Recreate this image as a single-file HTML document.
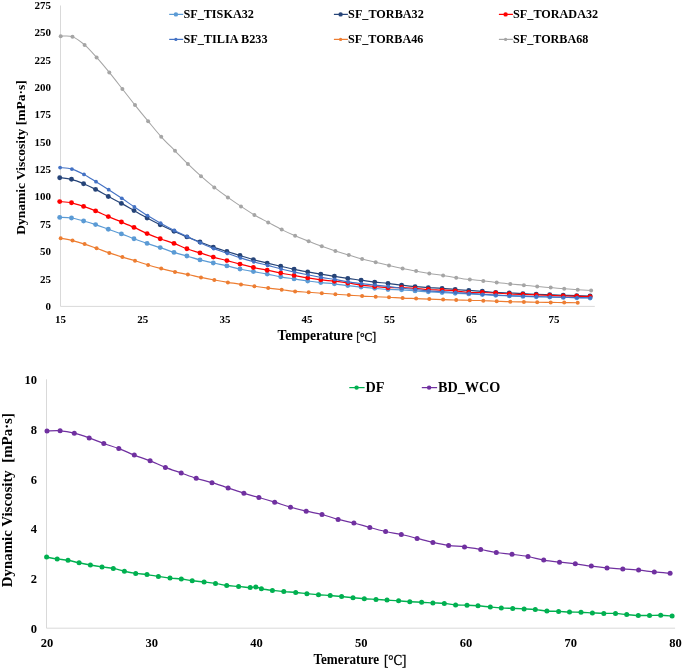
<!DOCTYPE html>
<html><head><meta charset="utf-8"><style>
html,body{margin:0;padding:0;background:#fff;width:685px;height:669px;overflow:hidden;}
svg{display:block;font-family:"Liberation Serif", serif;will-change:transform;}
</style></head><body>
<svg width="685" height="669" viewBox="0 0 685 669">
<rect width="685" height="669" fill="#fff"/>
<line x1="60.5" y1="5.5" x2="60.5" y2="306.4" stroke="#d9d9d9" stroke-width="1"/>
<line x1="60.5" y1="306.4" x2="594.8" y2="306.4" stroke="#d9d9d9" stroke-width="1"/>
<text x="51" y="309.9" font-family="'Liberation Serif', serif" font-weight="bold" font-size="11" text-anchor="end">0</text>
<text x="51" y="282.5" font-family="'Liberation Serif', serif" font-weight="bold" font-size="11" text-anchor="end">25</text>
<text x="51" y="255.2" font-family="'Liberation Serif', serif" font-weight="bold" font-size="11" text-anchor="end">50</text>
<text x="51" y="227.8" font-family="'Liberation Serif', serif" font-weight="bold" font-size="11" text-anchor="end">75</text>
<text x="51" y="200.4" font-family="'Liberation Serif', serif" font-weight="bold" font-size="11" text-anchor="end">100</text>
<text x="51" y="173.1" font-family="'Liberation Serif', serif" font-weight="bold" font-size="11" text-anchor="end">125</text>
<text x="51" y="145.7" font-family="'Liberation Serif', serif" font-weight="bold" font-size="11" text-anchor="end">150</text>
<text x="51" y="118.4" font-family="'Liberation Serif', serif" font-weight="bold" font-size="11" text-anchor="end">175</text>
<text x="51" y="91.0" font-family="'Liberation Serif', serif" font-weight="bold" font-size="11" text-anchor="end">200</text>
<text x="51" y="63.6" font-family="'Liberation Serif', serif" font-weight="bold" font-size="11" text-anchor="end">225</text>
<text x="51" y="36.3" font-family="'Liberation Serif', serif" font-weight="bold" font-size="11" text-anchor="end">250</text>
<text x="51" y="8.9" font-family="'Liberation Serif', serif" font-weight="bold" font-size="11" text-anchor="end">275</text>
<text x="60.4" y="323.2" font-family="'Liberation Serif', serif" font-weight="bold" font-size="11" text-anchor="middle">15</text>
<text x="142.7" y="323.2" font-family="'Liberation Serif', serif" font-weight="bold" font-size="11" text-anchor="middle">25</text>
<text x="224.9" y="323.2" font-family="'Liberation Serif', serif" font-weight="bold" font-size="11" text-anchor="middle">35</text>
<text x="307.1" y="323.2" font-family="'Liberation Serif', serif" font-weight="bold" font-size="11" text-anchor="middle">45</text>
<text x="389.4" y="323.2" font-family="'Liberation Serif', serif" font-weight="bold" font-size="11" text-anchor="middle">55</text>
<text x="471.6" y="323.2" font-family="'Liberation Serif', serif" font-weight="bold" font-size="11" text-anchor="middle">65</text>
<text x="553.9" y="323.2" font-family="'Liberation Serif', serif" font-weight="bold" font-size="11" text-anchor="middle">75</text>
<text transform="translate(25.2,157.6) rotate(-90)" font-family="'Liberation Serif', serif" font-weight="bold" font-size="13.5" text-anchor="middle">Dynamic Viscosity [mPa·s]</text>
<text x="277.4" y="340.2" font-family="'Liberation Serif', serif" font-weight="bold" font-size="14.2" textLength="75.3" lengthAdjust="spacingAndGlyphs">Temperature</text>
<text x="356.2" y="340.5" font-family="'Liberation Serif', serif" font-size="12.6" textLength="19.9" lengthAdjust="spacingAndGlyphs" stroke="#000" stroke-width="0.35">[°C]</text>
<path d="M59.70,217.40 C61.67,217.50 67.52,217.40 71.50,218.00 C75.48,218.60 79.58,219.90 83.60,221.00 C87.62,222.10 91.48,223.23 95.60,224.60 C99.72,225.97 104.00,227.65 108.30,229.20 C112.60,230.75 117.12,232.32 121.40,233.90 C125.68,235.48 129.72,237.12 134.00,238.70 C138.28,240.28 142.73,241.92 147.10,243.40 C151.47,244.88 155.72,246.10 160.20,247.60 C164.68,249.10 169.55,251.00 174.00,252.40 C178.45,253.80 182.57,254.75 186.90,256.00 C191.23,257.25 195.60,258.73 200.00,259.90 C204.40,261.07 208.82,262.00 213.30,263.00 C217.78,264.00 222.45,264.90 226.90,265.90 C231.35,266.90 235.58,268.05 240.00,269.00 C244.42,269.95 248.87,270.75 253.40,271.60 C257.93,272.45 262.65,273.23 267.20,274.10 C271.75,274.97 276.22,276.00 280.70,276.80 C285.18,277.60 289.60,278.20 294.10,278.90 C298.60,279.60 303.25,280.38 307.70,281.00 C312.15,281.62 316.35,282.13 320.80,282.60 C325.25,283.07 329.90,283.30 334.40,283.80 C338.90,284.30 343.35,285.05 347.80,285.60 C352.25,286.15 356.62,286.65 361.10,287.10 C365.58,287.55 370.22,287.90 374.70,288.30 C379.18,288.70 383.52,289.25 388.00,289.50 C392.48,289.75 397.08,289.57 401.60,289.80 C406.12,290.03 410.65,290.57 415.10,290.90 C419.55,291.23 423.80,291.52 428.30,291.80 C432.80,292.08 437.62,292.35 442.10,292.60 C446.58,292.85 450.75,293.08 455.20,293.30 C459.65,293.52 464.28,293.68 468.80,293.90 C473.32,294.12 477.82,294.37 482.30,294.60 C486.78,294.83 491.20,295.08 495.70,295.30 C500.20,295.52 504.77,295.72 509.30,295.90 C513.83,296.08 518.42,296.25 522.90,296.40 C527.38,296.55 531.73,296.68 536.20,296.80 C540.67,296.92 545.20,297.00 549.70,297.10 C554.20,297.20 558.70,297.30 563.20,297.40 C567.70,297.50 572.22,297.60 576.70,297.70 C581.18,297.80 587.87,297.95 590.10,298.00" fill="none" stroke="#5b9bd5" stroke-width="1.2" stroke-linejoin="round"/><circle cx="59.7" cy="217.4" r="2.45" fill="#5b9bd5"/><circle cx="71.5" cy="218.0" r="2.45" fill="#5b9bd5"/><circle cx="83.6" cy="221.0" r="2.45" fill="#5b9bd5"/><circle cx="95.6" cy="224.6" r="2.45" fill="#5b9bd5"/><circle cx="108.3" cy="229.2" r="2.45" fill="#5b9bd5"/><circle cx="121.4" cy="233.9" r="2.45" fill="#5b9bd5"/><circle cx="134.0" cy="238.7" r="2.45" fill="#5b9bd5"/><circle cx="147.1" cy="243.4" r="2.45" fill="#5b9bd5"/><circle cx="160.2" cy="247.6" r="2.45" fill="#5b9bd5"/><circle cx="174.0" cy="252.4" r="2.45" fill="#5b9bd5"/><circle cx="186.9" cy="256.0" r="2.45" fill="#5b9bd5"/><circle cx="200.0" cy="259.9" r="2.45" fill="#5b9bd5"/><circle cx="213.3" cy="263.0" r="2.45" fill="#5b9bd5"/><circle cx="226.9" cy="265.9" r="2.45" fill="#5b9bd5"/><circle cx="240.0" cy="269.0" r="2.45" fill="#5b9bd5"/><circle cx="253.4" cy="271.6" r="2.45" fill="#5b9bd5"/><circle cx="267.2" cy="274.1" r="2.45" fill="#5b9bd5"/><circle cx="280.7" cy="276.8" r="2.45" fill="#5b9bd5"/><circle cx="294.1" cy="278.9" r="2.45" fill="#5b9bd5"/><circle cx="307.7" cy="281.0" r="2.45" fill="#5b9bd5"/><circle cx="320.8" cy="282.6" r="2.45" fill="#5b9bd5"/><circle cx="334.4" cy="283.8" r="2.45" fill="#5b9bd5"/><circle cx="347.8" cy="285.6" r="2.45" fill="#5b9bd5"/><circle cx="361.1" cy="287.1" r="2.45" fill="#5b9bd5"/><circle cx="374.7" cy="288.3" r="2.45" fill="#5b9bd5"/><circle cx="388.0" cy="289.5" r="2.45" fill="#5b9bd5"/><circle cx="401.6" cy="289.8" r="2.45" fill="#5b9bd5"/><circle cx="415.1" cy="290.9" r="2.45" fill="#5b9bd5"/><circle cx="428.3" cy="291.8" r="2.45" fill="#5b9bd5"/><circle cx="442.1" cy="292.6" r="2.45" fill="#5b9bd5"/><circle cx="455.2" cy="293.3" r="2.45" fill="#5b9bd5"/><circle cx="468.8" cy="293.9" r="2.45" fill="#5b9bd5"/><circle cx="482.3" cy="294.6" r="2.45" fill="#5b9bd5"/><circle cx="495.7" cy="295.3" r="2.45" fill="#5b9bd5"/><circle cx="509.3" cy="295.9" r="2.45" fill="#5b9bd5"/><circle cx="522.9" cy="296.4" r="2.45" fill="#5b9bd5"/><circle cx="536.2" cy="296.8" r="2.45" fill="#5b9bd5"/><circle cx="549.7" cy="297.1" r="2.45" fill="#5b9bd5"/><circle cx="563.2" cy="297.4" r="2.45" fill="#5b9bd5"/><circle cx="576.7" cy="297.7" r="2.45" fill="#5b9bd5"/><circle cx="590.1" cy="298.0" r="2.45" fill="#5b9bd5"/>
<path d="M59.70,177.70 C61.67,177.97 67.52,178.30 71.50,179.30 C75.48,180.30 79.58,182.02 83.60,183.70 C87.62,185.38 91.48,187.27 95.60,189.40 C99.72,191.53 104.00,194.17 108.30,196.50 C112.60,198.83 117.12,201.05 121.40,203.40 C125.68,205.75 129.72,208.17 134.00,210.60 C138.28,213.03 142.73,215.65 147.10,218.00 C151.47,220.35 155.72,222.50 160.20,224.70 C164.68,226.90 169.55,229.17 174.00,231.20 C178.45,233.23 182.57,235.10 186.90,236.90 C191.23,238.70 195.60,240.30 200.00,242.00 C204.40,243.70 208.82,245.52 213.30,247.10 C217.78,248.68 222.45,250.10 226.90,251.50 C231.35,252.90 235.58,254.13 240.00,255.50 C244.42,256.87 248.87,258.43 253.40,259.70 C257.93,260.97 262.65,262.00 267.20,263.10 C271.75,264.20 276.22,265.27 280.70,266.30 C285.18,267.33 289.60,268.37 294.10,269.30 C298.60,270.23 303.25,271.08 307.70,271.90 C312.15,272.72 316.35,273.47 320.80,274.20 C325.25,274.93 329.90,275.60 334.40,276.30 C338.90,277.00 343.35,277.75 347.80,278.40 C352.25,279.05 356.62,279.58 361.10,280.20 C365.58,280.82 370.22,281.57 374.70,282.10 C379.18,282.63 383.52,282.88 388.00,283.40 C392.48,283.92 397.08,284.65 401.60,285.20 C406.12,285.75 410.65,286.30 415.10,286.70 C419.55,287.10 423.80,287.32 428.30,287.60 C432.80,287.88 437.62,288.08 442.10,288.40 C446.58,288.72 450.75,289.17 455.20,289.50 C459.65,289.83 464.28,290.10 468.80,290.40 C473.32,290.70 477.82,290.97 482.30,291.30 C486.78,291.63 491.20,292.12 495.70,292.40 C500.20,292.68 504.77,292.80 509.30,293.00 C513.83,293.20 518.42,293.38 522.90,293.60 C527.38,293.82 531.73,294.10 536.20,294.30 C540.67,294.50 545.20,294.63 549.70,294.80 C554.20,294.97 558.70,295.15 563.20,295.30 C567.70,295.45 572.22,295.58 576.70,295.70 C581.18,295.82 587.87,295.95 590.10,296.00" fill="none" stroke="#264478" stroke-width="1.2" stroke-linejoin="round"/><circle cx="59.7" cy="177.7" r="2.45" fill="#264478"/><circle cx="71.5" cy="179.3" r="2.45" fill="#264478"/><circle cx="83.6" cy="183.7" r="2.45" fill="#264478"/><circle cx="95.6" cy="189.4" r="2.45" fill="#264478"/><circle cx="108.3" cy="196.5" r="2.45" fill="#264478"/><circle cx="121.4" cy="203.4" r="2.45" fill="#264478"/><circle cx="134.0" cy="210.6" r="2.45" fill="#264478"/><circle cx="147.1" cy="218.0" r="2.45" fill="#264478"/><circle cx="160.2" cy="224.7" r="2.45" fill="#264478"/><circle cx="174.0" cy="231.2" r="2.45" fill="#264478"/><circle cx="186.9" cy="236.9" r="2.45" fill="#264478"/><circle cx="200.0" cy="242.0" r="2.45" fill="#264478"/><circle cx="213.3" cy="247.1" r="2.45" fill="#264478"/><circle cx="226.9" cy="251.5" r="2.45" fill="#264478"/><circle cx="240.0" cy="255.5" r="2.45" fill="#264478"/><circle cx="253.4" cy="259.7" r="2.45" fill="#264478"/><circle cx="267.2" cy="263.1" r="2.45" fill="#264478"/><circle cx="280.7" cy="266.3" r="2.45" fill="#264478"/><circle cx="294.1" cy="269.3" r="2.45" fill="#264478"/><circle cx="307.7" cy="271.9" r="2.45" fill="#264478"/><circle cx="320.8" cy="274.2" r="2.45" fill="#264478"/><circle cx="334.4" cy="276.3" r="2.45" fill="#264478"/><circle cx="347.8" cy="278.4" r="2.45" fill="#264478"/><circle cx="361.1" cy="280.2" r="2.45" fill="#264478"/><circle cx="374.7" cy="282.1" r="2.45" fill="#264478"/><circle cx="388.0" cy="283.4" r="2.45" fill="#264478"/><circle cx="401.6" cy="285.2" r="2.45" fill="#264478"/><circle cx="415.1" cy="286.7" r="2.45" fill="#264478"/><circle cx="428.3" cy="287.6" r="2.45" fill="#264478"/><circle cx="442.1" cy="288.4" r="2.45" fill="#264478"/><circle cx="455.2" cy="289.5" r="2.45" fill="#264478"/><circle cx="468.8" cy="290.4" r="2.45" fill="#264478"/><circle cx="482.3" cy="291.3" r="2.45" fill="#264478"/><circle cx="495.7" cy="292.4" r="2.45" fill="#264478"/><circle cx="509.3" cy="293.0" r="2.45" fill="#264478"/><circle cx="522.9" cy="293.6" r="2.45" fill="#264478"/><circle cx="536.2" cy="294.3" r="2.45" fill="#264478"/><circle cx="549.7" cy="294.8" r="2.45" fill="#264478"/><circle cx="563.2" cy="295.3" r="2.45" fill="#264478"/><circle cx="576.7" cy="295.7" r="2.45" fill="#264478"/><circle cx="590.1" cy="296.0" r="2.45" fill="#264478"/>
<path d="M59.70,201.60 C61.67,201.80 67.52,202.00 71.50,202.80 C75.48,203.60 79.58,205.05 83.60,206.40 C87.62,207.75 91.48,209.20 95.60,210.90 C99.72,212.60 104.00,214.75 108.30,216.60 C112.60,218.45 117.12,220.20 121.40,222.00 C125.68,223.80 129.72,225.47 134.00,227.40 C138.28,229.33 142.73,231.72 147.10,233.60 C151.47,235.48 155.72,237.07 160.20,238.70 C164.68,240.33 169.55,241.72 174.00,243.40 C178.45,245.08 182.57,247.22 186.90,248.80 C191.23,250.38 195.60,251.52 200.00,252.90 C204.40,254.28 208.82,255.82 213.30,257.10 C217.78,258.38 222.45,259.43 226.90,260.60 C231.35,261.77 235.58,262.95 240.00,264.10 C244.42,265.25 248.87,266.48 253.40,267.50 C257.93,268.52 262.65,269.28 267.20,270.20 C271.75,271.12 276.22,272.13 280.70,273.00 C285.18,273.87 289.60,274.58 294.10,275.40 C298.60,276.22 303.25,277.17 307.70,277.90 C312.15,278.63 316.35,279.25 320.80,279.80 C325.25,280.35 329.90,280.67 334.40,281.20 C338.90,281.73 343.35,282.35 347.80,283.00 C352.25,283.65 356.62,284.52 361.10,285.10 C365.58,285.68 370.22,286.07 374.70,286.50 C379.18,286.93 383.52,287.53 388.00,287.70 C392.48,287.87 397.08,287.38 401.60,287.50 C406.12,287.62 410.65,288.07 415.10,288.40 C419.55,288.73 423.80,289.22 428.30,289.50 C432.80,289.78 437.62,289.87 442.10,290.10 C446.58,290.33 450.75,290.50 455.20,290.90 C459.65,291.30 464.28,292.23 468.80,292.50 C473.32,292.77 477.82,292.42 482.30,292.50 C486.78,292.58 491.20,292.75 495.70,293.00 C500.20,293.25 504.77,293.75 509.30,294.00 C513.83,294.25 518.42,294.35 522.90,294.50 C527.38,294.65 531.73,294.75 536.20,294.90 C540.67,295.05 545.20,295.22 549.70,295.40 C554.20,295.58 558.70,295.85 563.20,296.00 C567.70,296.15 572.22,296.20 576.70,296.30 C581.18,296.40 587.87,296.55 590.10,296.60" fill="none" stroke="#ff0000" stroke-width="1.2" stroke-linejoin="round"/><circle cx="59.7" cy="201.6" r="2.45" fill="#ff0000"/><circle cx="71.5" cy="202.8" r="2.45" fill="#ff0000"/><circle cx="83.6" cy="206.4" r="2.45" fill="#ff0000"/><circle cx="95.6" cy="210.9" r="2.45" fill="#ff0000"/><circle cx="108.3" cy="216.6" r="2.45" fill="#ff0000"/><circle cx="121.4" cy="222.0" r="2.45" fill="#ff0000"/><circle cx="134.0" cy="227.4" r="2.45" fill="#ff0000"/><circle cx="147.1" cy="233.6" r="2.45" fill="#ff0000"/><circle cx="160.2" cy="238.7" r="2.45" fill="#ff0000"/><circle cx="174.0" cy="243.4" r="2.45" fill="#ff0000"/><circle cx="186.9" cy="248.8" r="2.45" fill="#ff0000"/><circle cx="200.0" cy="252.9" r="2.45" fill="#ff0000"/><circle cx="213.3" cy="257.1" r="2.45" fill="#ff0000"/><circle cx="226.9" cy="260.6" r="2.45" fill="#ff0000"/><circle cx="240.0" cy="264.1" r="2.45" fill="#ff0000"/><circle cx="253.4" cy="267.5" r="2.45" fill="#ff0000"/><circle cx="267.2" cy="270.2" r="2.45" fill="#ff0000"/><circle cx="280.7" cy="273.0" r="2.45" fill="#ff0000"/><circle cx="294.1" cy="275.4" r="2.45" fill="#ff0000"/><circle cx="307.7" cy="277.9" r="2.45" fill="#ff0000"/><circle cx="320.8" cy="279.8" r="2.45" fill="#ff0000"/><circle cx="334.4" cy="281.2" r="2.45" fill="#ff0000"/><circle cx="347.8" cy="283.0" r="2.45" fill="#ff0000"/><circle cx="361.1" cy="285.1" r="2.45" fill="#ff0000"/><circle cx="374.7" cy="286.5" r="2.45" fill="#ff0000"/><circle cx="388.0" cy="287.7" r="2.45" fill="#ff0000"/><circle cx="401.6" cy="287.5" r="2.45" fill="#ff0000"/><circle cx="415.1" cy="288.4" r="2.45" fill="#ff0000"/><circle cx="428.3" cy="289.5" r="2.45" fill="#ff0000"/><circle cx="442.1" cy="290.1" r="2.45" fill="#ff0000"/><circle cx="455.2" cy="290.9" r="2.45" fill="#ff0000"/><circle cx="468.8" cy="292.5" r="2.45" fill="#ff0000"/><circle cx="482.3" cy="292.5" r="2.45" fill="#ff0000"/><circle cx="495.7" cy="293.0" r="2.45" fill="#ff0000"/><circle cx="509.3" cy="294.0" r="2.45" fill="#ff0000"/><circle cx="522.9" cy="294.5" r="2.45" fill="#ff0000"/><circle cx="536.2" cy="294.9" r="2.45" fill="#ff0000"/><circle cx="549.7" cy="295.4" r="2.45" fill="#ff0000"/><circle cx="563.2" cy="296.0" r="2.45" fill="#ff0000"/><circle cx="576.7" cy="296.3" r="2.45" fill="#ff0000"/><circle cx="590.1" cy="296.6" r="2.45" fill="#ff0000"/>
<path d="M60.10,167.60 C62.07,167.85 67.92,167.97 71.90,169.10 C75.88,170.23 79.98,172.30 84.00,174.40 C88.02,176.50 91.88,179.15 96.00,181.70 C100.12,184.25 104.40,186.93 108.70,189.70 C113.00,192.47 117.52,195.42 121.80,198.30 C126.08,201.18 130.12,204.12 134.40,207.00 C138.68,209.88 143.13,212.90 147.50,215.60 C151.87,218.30 156.12,220.72 160.60,223.20 C165.08,225.68 169.95,228.27 174.40,230.50 C178.85,232.73 182.97,234.55 187.30,236.60 C191.63,238.65 196.00,240.80 200.40,242.80 C204.80,244.80 209.22,246.85 213.70,248.60 C218.18,250.35 222.85,251.75 227.30,253.30 C231.75,254.85 235.98,256.48 240.40,257.90 C244.82,259.32 249.27,260.55 253.80,261.80 C258.33,263.05 263.05,264.20 267.60,265.40 C272.15,266.60 276.62,267.88 281.10,269.00 C285.58,270.12 290.00,271.13 294.50,272.10 C299.00,273.07 303.65,273.92 308.10,274.80 C312.55,275.68 316.75,276.63 321.20,277.40 C325.65,278.17 330.30,278.65 334.80,279.40 C339.30,280.15 343.75,281.20 348.20,281.90 C352.65,282.60 357.02,283.07 361.50,283.60 C365.98,284.13 370.62,284.62 375.10,285.10 C379.58,285.58 383.92,285.97 388.40,286.50 C392.88,287.03 397.48,287.80 402.00,288.30 C406.52,288.80 411.05,289.07 415.50,289.50 C419.95,289.93 424.20,290.55 428.70,290.90 C433.20,291.25 438.02,291.33 442.50,291.60 C446.98,291.87 451.15,292.20 455.60,292.50 C460.05,292.80 464.68,293.10 469.20,293.40 C473.72,293.70 478.22,294.02 482.70,294.30 C487.18,294.58 491.60,294.87 496.10,295.10 C500.60,295.33 505.17,295.53 509.70,295.70 C514.23,295.87 518.82,295.97 523.30,296.10 C527.78,296.23 532.13,296.37 536.60,296.50 C541.07,296.63 545.60,296.77 550.10,296.90 C554.60,297.03 559.10,297.18 563.60,297.30 C568.10,297.42 572.62,297.52 577.10,297.60 C581.58,297.68 588.27,297.77 590.50,297.80" fill="none" stroke="#4472c4" stroke-width="1.15" stroke-linejoin="round"/><circle cx="60.1" cy="167.6" r="1.9" fill="#4472c4"/><circle cx="71.9" cy="169.1" r="1.9" fill="#4472c4"/><circle cx="84.0" cy="174.4" r="1.9" fill="#4472c4"/><circle cx="96.0" cy="181.7" r="1.9" fill="#4472c4"/><circle cx="108.7" cy="189.7" r="1.9" fill="#4472c4"/><circle cx="121.8" cy="198.3" r="1.9" fill="#4472c4"/><circle cx="134.4" cy="207.0" r="1.9" fill="#4472c4"/><circle cx="147.5" cy="215.6" r="1.9" fill="#4472c4"/><circle cx="160.6" cy="223.2" r="1.9" fill="#4472c4"/><circle cx="174.4" cy="230.5" r="1.9" fill="#4472c4"/><circle cx="187.3" cy="236.6" r="1.9" fill="#4472c4"/><circle cx="200.4" cy="242.8" r="1.9" fill="#4472c4"/><circle cx="213.7" cy="248.6" r="1.9" fill="#4472c4"/><circle cx="227.3" cy="253.3" r="1.9" fill="#4472c4"/><circle cx="240.4" cy="257.9" r="1.9" fill="#4472c4"/><circle cx="253.8" cy="261.8" r="1.9" fill="#4472c4"/><circle cx="267.6" cy="265.4" r="1.9" fill="#4472c4"/><circle cx="281.1" cy="269.0" r="1.9" fill="#4472c4"/><circle cx="294.5" cy="272.1" r="1.9" fill="#4472c4"/><circle cx="308.1" cy="274.8" r="1.9" fill="#4472c4"/><circle cx="321.2" cy="277.4" r="1.9" fill="#4472c4"/><circle cx="334.8" cy="279.4" r="1.9" fill="#4472c4"/><circle cx="348.2" cy="281.9" r="1.9" fill="#4472c4"/><circle cx="361.5" cy="283.6" r="1.9" fill="#4472c4"/><circle cx="375.1" cy="285.1" r="1.9" fill="#4472c4"/><circle cx="388.4" cy="286.5" r="1.9" fill="#4472c4"/><circle cx="402.0" cy="288.3" r="1.9" fill="#4472c4"/><circle cx="415.5" cy="289.5" r="1.9" fill="#4472c4"/><circle cx="428.7" cy="290.9" r="1.9" fill="#4472c4"/><circle cx="442.5" cy="291.6" r="1.9" fill="#4472c4"/><circle cx="455.6" cy="292.5" r="1.9" fill="#4472c4"/><circle cx="469.2" cy="293.4" r="1.9" fill="#4472c4"/><circle cx="482.7" cy="294.3" r="1.9" fill="#4472c4"/><circle cx="496.1" cy="295.1" r="1.9" fill="#4472c4"/><circle cx="509.7" cy="295.7" r="1.9" fill="#4472c4"/><circle cx="523.3" cy="296.1" r="1.9" fill="#4472c4"/><circle cx="536.6" cy="296.5" r="1.9" fill="#4472c4"/><circle cx="550.1" cy="296.9" r="1.9" fill="#4472c4"/><circle cx="563.6" cy="297.3" r="1.9" fill="#4472c4"/><circle cx="577.1" cy="297.6" r="1.9" fill="#4472c4"/><circle cx="590.5" cy="297.8" r="1.9" fill="#4472c4"/>
<path d="M60.70,238.20 C62.67,238.60 68.52,239.62 72.50,240.60 C76.48,241.58 80.58,242.82 84.60,244.10 C88.62,245.38 92.48,246.83 96.60,248.30 C100.72,249.77 105.00,251.43 109.30,252.90 C113.60,254.37 118.12,255.80 122.40,257.10 C126.68,258.40 130.72,259.38 135.00,260.70 C139.28,262.02 143.73,263.68 148.10,265.00 C152.47,266.32 156.72,267.45 161.20,268.60 C165.68,269.75 170.55,270.92 175.00,271.90 C179.45,272.88 183.57,273.58 187.90,274.50 C192.23,275.42 196.60,276.48 201.00,277.40 C205.40,278.32 209.82,279.17 214.30,280.00 C218.78,280.83 223.45,281.67 227.90,282.40 C232.35,283.13 236.58,283.75 241.00,284.40 C245.42,285.05 249.87,285.68 254.40,286.30 C258.93,286.92 263.65,287.53 268.20,288.10 C272.75,288.67 277.22,289.15 281.70,289.70 C286.18,290.25 290.60,290.97 295.10,291.40 C299.60,291.83 304.25,292.00 308.70,292.30 C313.15,292.60 317.35,292.88 321.80,293.20 C326.25,293.52 330.90,293.88 335.40,294.20 C339.90,294.52 344.35,294.78 348.80,295.10 C353.25,295.42 357.62,295.83 362.10,296.10 C366.58,296.37 371.22,296.50 375.70,296.70 C380.18,296.90 384.52,297.07 389.00,297.30 C393.48,297.53 398.08,297.88 402.60,298.10 C407.12,298.32 411.65,298.43 416.10,298.60 C420.55,298.77 424.80,298.93 429.30,299.10 C433.80,299.27 438.62,299.45 443.10,299.60 C447.58,299.75 451.75,299.90 456.20,300.00 C460.65,300.10 465.28,300.08 469.80,300.20 C474.32,300.32 478.82,300.53 483.30,300.70 C487.78,300.87 492.20,301.03 496.70,301.20 C501.20,301.37 505.77,301.58 510.30,301.70 C514.83,301.82 519.42,301.82 523.90,301.90 C528.38,301.98 532.73,302.12 537.20,302.20 C541.67,302.28 546.20,302.33 550.70,302.40 C555.20,302.47 559.70,302.53 564.20,302.60 C568.70,302.67 575.45,302.77 577.70,302.80" fill="none" stroke="#ed7d31" stroke-width="1.15" stroke-linejoin="round"/><circle cx="60.7" cy="238.2" r="2" fill="#ed7d31"/><circle cx="72.5" cy="240.6" r="2" fill="#ed7d31"/><circle cx="84.6" cy="244.1" r="2" fill="#ed7d31"/><circle cx="96.6" cy="248.3" r="2" fill="#ed7d31"/><circle cx="109.3" cy="252.9" r="2" fill="#ed7d31"/><circle cx="122.4" cy="257.1" r="2" fill="#ed7d31"/><circle cx="135.0" cy="260.7" r="2" fill="#ed7d31"/><circle cx="148.1" cy="265.0" r="2" fill="#ed7d31"/><circle cx="161.2" cy="268.6" r="2" fill="#ed7d31"/><circle cx="175.0" cy="271.9" r="2" fill="#ed7d31"/><circle cx="187.9" cy="274.5" r="2" fill="#ed7d31"/><circle cx="201.0" cy="277.4" r="2" fill="#ed7d31"/><circle cx="214.3" cy="280.0" r="2" fill="#ed7d31"/><circle cx="227.9" cy="282.4" r="2" fill="#ed7d31"/><circle cx="241.0" cy="284.4" r="2" fill="#ed7d31"/><circle cx="254.4" cy="286.3" r="2" fill="#ed7d31"/><circle cx="268.2" cy="288.1" r="2" fill="#ed7d31"/><circle cx="281.7" cy="289.7" r="2" fill="#ed7d31"/><circle cx="295.1" cy="291.4" r="2" fill="#ed7d31"/><circle cx="308.7" cy="292.3" r="2" fill="#ed7d31"/><circle cx="321.8" cy="293.2" r="2" fill="#ed7d31"/><circle cx="335.4" cy="294.2" r="2" fill="#ed7d31"/><circle cx="348.8" cy="295.1" r="2" fill="#ed7d31"/><circle cx="362.1" cy="296.1" r="2" fill="#ed7d31"/><circle cx="375.7" cy="296.7" r="2" fill="#ed7d31"/><circle cx="389.0" cy="297.3" r="2" fill="#ed7d31"/><circle cx="402.6" cy="298.1" r="2" fill="#ed7d31"/><circle cx="416.1" cy="298.6" r="2" fill="#ed7d31"/><circle cx="429.3" cy="299.1" r="2" fill="#ed7d31"/><circle cx="443.1" cy="299.6" r="2" fill="#ed7d31"/><circle cx="456.2" cy="300.0" r="2" fill="#ed7d31"/><circle cx="469.8" cy="300.2" r="2" fill="#ed7d31"/><circle cx="483.3" cy="300.7" r="2" fill="#ed7d31"/><circle cx="496.7" cy="301.2" r="2" fill="#ed7d31"/><circle cx="510.3" cy="301.7" r="2" fill="#ed7d31"/><circle cx="523.9" cy="301.9" r="2" fill="#ed7d31"/><circle cx="537.2" cy="302.2" r="2" fill="#ed7d31"/><circle cx="550.7" cy="302.4" r="2" fill="#ed7d31"/><circle cx="564.2" cy="302.6" r="2" fill="#ed7d31"/><circle cx="577.7" cy="302.8" r="2" fill="#ed7d31"/>
<path d="M60.70,36.20 C62.67,36.28 68.52,35.25 72.50,36.70 C76.48,38.15 80.58,41.45 84.60,44.90 C88.62,48.35 92.48,52.82 96.60,57.40 C100.72,61.98 105.00,67.13 109.30,72.40 C113.60,77.67 118.12,83.55 122.40,89.00 C126.68,94.45 130.72,99.73 135.00,105.10 C139.28,110.47 143.73,115.92 148.10,121.20 C152.47,126.48 156.72,131.87 161.20,136.80 C165.68,141.73 170.55,146.28 175.00,150.80 C179.45,155.32 183.57,159.67 187.90,163.90 C192.23,168.13 196.60,172.28 201.00,176.20 C205.40,180.12 209.82,183.87 214.30,187.40 C218.78,190.93 223.45,194.23 227.90,197.40 C232.35,200.57 236.58,203.47 241.00,206.40 C245.42,209.33 249.87,212.33 254.40,215.00 C258.93,217.67 263.65,219.97 268.20,222.40 C272.75,224.83 277.22,227.37 281.70,229.60 C286.18,231.83 290.60,233.87 295.10,235.80 C299.60,237.73 304.25,239.45 308.70,241.20 C313.15,242.95 317.35,244.68 321.80,246.30 C326.25,247.92 330.90,249.45 335.40,250.90 C339.90,252.35 344.35,253.65 348.80,255.00 C353.25,256.35 357.62,257.78 362.10,259.00 C366.58,260.22 371.22,261.22 375.70,262.30 C380.18,263.38 384.52,264.47 389.00,265.50 C393.48,266.53 398.08,267.57 402.60,268.50 C407.12,269.43 411.65,270.27 416.10,271.10 C420.55,271.93 424.80,272.77 429.30,273.50 C433.80,274.23 438.62,274.80 443.10,275.50 C447.58,276.20 451.75,277.02 456.20,277.70 C460.65,278.38 465.28,279.07 469.80,279.60 C474.32,280.13 478.82,280.42 483.30,280.90 C487.78,281.38 492.20,281.98 496.70,282.50 C501.20,283.02 505.77,283.55 510.30,284.00 C514.83,284.45 519.42,284.77 523.90,285.20 C528.38,285.63 532.73,286.20 537.20,286.60 C541.67,287.00 546.20,287.25 550.70,287.60 C555.20,287.95 559.70,288.35 564.20,288.70 C568.70,289.05 573.22,289.38 577.70,289.70 C582.18,290.02 588.87,290.45 591.10,290.60" fill="none" stroke="#a5a5a5" stroke-width="1.05" stroke-linejoin="round"/><circle cx="60.7" cy="36.2" r="2" fill="#a5a5a5"/><circle cx="72.5" cy="36.7" r="2" fill="#a5a5a5"/><circle cx="84.6" cy="44.9" r="2" fill="#a5a5a5"/><circle cx="96.6" cy="57.4" r="2" fill="#a5a5a5"/><circle cx="109.3" cy="72.4" r="2" fill="#a5a5a5"/><circle cx="122.4" cy="89.0" r="2" fill="#a5a5a5"/><circle cx="135.0" cy="105.1" r="2" fill="#a5a5a5"/><circle cx="148.1" cy="121.2" r="2" fill="#a5a5a5"/><circle cx="161.2" cy="136.8" r="2" fill="#a5a5a5"/><circle cx="175.0" cy="150.8" r="2" fill="#a5a5a5"/><circle cx="187.9" cy="163.9" r="2" fill="#a5a5a5"/><circle cx="201.0" cy="176.2" r="2" fill="#a5a5a5"/><circle cx="214.3" cy="187.4" r="2" fill="#a5a5a5"/><circle cx="227.9" cy="197.4" r="2" fill="#a5a5a5"/><circle cx="241.0" cy="206.4" r="2" fill="#a5a5a5"/><circle cx="254.4" cy="215.0" r="2" fill="#a5a5a5"/><circle cx="268.2" cy="222.4" r="2" fill="#a5a5a5"/><circle cx="281.7" cy="229.6" r="2" fill="#a5a5a5"/><circle cx="295.1" cy="235.8" r="2" fill="#a5a5a5"/><circle cx="308.7" cy="241.2" r="2" fill="#a5a5a5"/><circle cx="321.8" cy="246.3" r="2" fill="#a5a5a5"/><circle cx="335.4" cy="250.9" r="2" fill="#a5a5a5"/><circle cx="348.8" cy="255.0" r="2" fill="#a5a5a5"/><circle cx="362.1" cy="259.0" r="2" fill="#a5a5a5"/><circle cx="375.7" cy="262.3" r="2" fill="#a5a5a5"/><circle cx="389.0" cy="265.5" r="2" fill="#a5a5a5"/><circle cx="402.6" cy="268.5" r="2" fill="#a5a5a5"/><circle cx="416.1" cy="271.1" r="2" fill="#a5a5a5"/><circle cx="429.3" cy="273.5" r="2" fill="#a5a5a5"/><circle cx="443.1" cy="275.5" r="2" fill="#a5a5a5"/><circle cx="456.2" cy="277.7" r="2" fill="#a5a5a5"/><circle cx="469.8" cy="279.6" r="2" fill="#a5a5a5"/><circle cx="483.3" cy="280.9" r="2" fill="#a5a5a5"/><circle cx="496.7" cy="282.5" r="2" fill="#a5a5a5"/><circle cx="510.3" cy="284.0" r="2" fill="#a5a5a5"/><circle cx="523.9" cy="285.2" r="2" fill="#a5a5a5"/><circle cx="537.2" cy="286.6" r="2" fill="#a5a5a5"/><circle cx="550.7" cy="287.6" r="2" fill="#a5a5a5"/><circle cx="564.2" cy="288.7" r="2" fill="#a5a5a5"/><circle cx="577.7" cy="289.7" r="2" fill="#a5a5a5"/><circle cx="591.1" cy="290.6" r="2" fill="#a5a5a5"/>
<line x1="169.2" y1="14.4" x2="183.2" y2="14.4" stroke="#5b9bd5" stroke-width="1.25"/><circle cx="175.9" cy="14.4" r="2.2" fill="#5b9bd5"/><text x="183.4" y="17.9" font-family="'Liberation Serif', serif" font-weight="bold" font-size="13.4" textLength="70.50" lengthAdjust="spacingAndGlyphs">SF_TISKA32</text>
<line x1="333.9" y1="14.4" x2="347.9" y2="14.4" stroke="#264478" stroke-width="1.25"/><circle cx="340.6" cy="14.4" r="2.2" fill="#264478"/><text x="348.1" y="17.9" font-family="'Liberation Serif', serif" font-weight="bold" font-size="13.4" textLength="75.70" lengthAdjust="spacingAndGlyphs">SF_TORBA32</text>
<line x1="498.9" y1="14.4" x2="512.9" y2="14.4" stroke="#ff0000" stroke-width="1.25"/><circle cx="505.6" cy="14.4" r="2.2" fill="#ff0000"/><text x="513.1" y="17.9" font-family="'Liberation Serif', serif" font-weight="bold" font-size="13.4" textLength="85.00" lengthAdjust="spacingAndGlyphs">SF_TORADA32</text>
<line x1="169.2" y1="39.4" x2="183.2" y2="39.4" stroke="#4472c4" stroke-width="1.25"/><circle cx="175.9" cy="39.4" r="1.6" fill="#4472c4"/><text x="183.4" y="42.9" font-family="'Liberation Serif', serif" font-weight="bold" font-size="13.4" textLength="84.20" lengthAdjust="spacingAndGlyphs">SF_TILIA B233</text>
<line x1="333.9" y1="39.4" x2="347.9" y2="39.4" stroke="#ed7d31" stroke-width="1.25"/><circle cx="340.6" cy="39.4" r="1.6" fill="#ed7d31"/><text x="348.1" y="42.9" font-family="'Liberation Serif', serif" font-weight="bold" font-size="13.4" textLength="75.20" lengthAdjust="spacingAndGlyphs">SF_TORBA46</text>
<line x1="498.9" y1="39.4" x2="512.9" y2="39.4" stroke="#a5a5a5" stroke-width="1.25"/><circle cx="505.6" cy="39.4" r="1.6" fill="#a5a5a5"/><text x="513.1" y="42.9" font-family="'Liberation Serif', serif" font-weight="bold" font-size="13.4" textLength="75.20" lengthAdjust="spacingAndGlyphs">SF_TORBA68</text>
<line x1="46.5" y1="379.3" x2="46.5" y2="628.2" stroke="#d9d9d9" stroke-width="1"/>
<line x1="46.5" y1="628.2" x2="675.1" y2="628.2" stroke="#d9d9d9" stroke-width="1"/>
<text x="37" y="632.8" font-family="'Liberation Serif', serif" font-weight="bold" font-size="12.5" text-anchor="end">0</text>
<text x="37" y="583.0" font-family="'Liberation Serif', serif" font-weight="bold" font-size="12.5" text-anchor="end">2</text>
<text x="37" y="533.2" font-family="'Liberation Serif', serif" font-weight="bold" font-size="12.5" text-anchor="end">4</text>
<text x="37" y="483.5" font-family="'Liberation Serif', serif" font-weight="bold" font-size="12.5" text-anchor="end">6</text>
<text x="37" y="433.7" font-family="'Liberation Serif', serif" font-weight="bold" font-size="12.5" text-anchor="end">8</text>
<text x="37" y="383.9" font-family="'Liberation Serif', serif" font-weight="bold" font-size="12.5" text-anchor="end">10</text>
<text x="46.9" y="647.1" font-family="'Liberation Serif', serif" font-weight="bold" font-size="12.5" text-anchor="middle">20</text>
<text x="151.7" y="647.1" font-family="'Liberation Serif', serif" font-weight="bold" font-size="12.5" text-anchor="middle">30</text>
<text x="256.4" y="647.1" font-family="'Liberation Serif', serif" font-weight="bold" font-size="12.5" text-anchor="middle">40</text>
<text x="361.2" y="647.1" font-family="'Liberation Serif', serif" font-weight="bold" font-size="12.5" text-anchor="middle">50</text>
<text x="466.0" y="647.1" font-family="'Liberation Serif', serif" font-weight="bold" font-size="12.5" text-anchor="middle">60</text>
<text x="570.8" y="647.1" font-family="'Liberation Serif', serif" font-weight="bold" font-size="12.5" text-anchor="middle">70</text>
<text x="675.5" y="647.1" font-family="'Liberation Serif', serif" font-weight="bold" font-size="12.5" text-anchor="middle">80</text>
<text transform="translate(11.9,500.2) rotate(-90)" font-family="'Liberation Serif', serif" font-weight="bold" font-size="14.9" text-anchor="middle" xml:space="preserve">Dynamic Viscosity  [mPa·s]</text>
<text x="313.5" y="663.8" font-family="'Liberation Serif', serif" font-weight="bold" font-size="14" textLength="65.6" lengthAdjust="spacingAndGlyphs">Temerature</text>
<text x="384.0" y="664.8" font-family="'Liberation Serif', serif" font-size="14.3" textLength="22.4" lengthAdjust="spacingAndGlyphs" stroke="#000" stroke-width="0.35">[°C]</text>
<path d="M46.60,557.10 C48.37,557.40 53.63,558.37 57.20,558.90 C60.77,559.43 64.35,559.65 68.00,560.30 C71.65,560.95 75.37,562.02 79.10,562.80 C82.83,563.58 86.58,564.32 90.40,565.00 C94.22,565.68 98.18,566.33 102.00,566.90 C105.82,567.47 109.57,567.67 113.30,568.40 C117.03,569.13 120.67,570.47 124.40,571.30 C128.13,572.13 131.93,572.85 135.70,573.40 C139.47,573.95 143.22,574.10 147.00,574.60 C150.78,575.10 154.57,575.82 158.40,576.40 C162.23,576.98 166.18,577.67 170.00,578.10 C173.82,578.53 177.60,578.55 181.30,579.00 C185.00,579.45 188.40,580.30 192.20,580.80 C196.00,581.30 200.22,581.57 204.10,582.00 C207.98,582.43 211.73,582.82 215.50,583.40 C219.27,583.98 222.85,585.00 226.70,585.50 C230.55,586.00 234.68,586.05 238.60,586.40 C242.52,586.75 247.33,587.52 250.20,587.60 C253.07,587.68 253.93,586.72 255.80,586.90 C257.67,587.08 258.63,588.12 261.40,588.70 C264.17,589.28 268.67,589.92 272.40,590.40 C276.13,590.88 279.92,591.25 283.80,591.60 C287.68,591.95 291.85,592.15 295.70,592.50 C299.55,592.85 303.10,593.32 306.90,593.70 C310.70,594.08 314.62,594.50 318.50,594.80 C322.38,595.10 326.35,595.22 330.20,595.50 C334.05,595.78 337.80,596.13 341.60,596.50 C345.40,596.87 349.22,597.33 353.00,597.70 C356.78,598.07 360.47,598.42 364.30,598.70 C368.13,598.98 372.22,599.17 376.00,599.40 C379.78,599.63 383.23,599.87 387.00,600.10 C390.77,600.33 394.80,600.52 398.60,600.80 C402.40,601.08 405.97,601.57 409.80,601.80 C413.63,602.03 417.75,602.02 421.60,602.20 C425.45,602.38 429.12,602.70 432.90,602.90 C436.68,603.10 440.52,603.05 444.30,603.40 C448.08,603.75 451.82,604.70 455.60,605.00 C459.38,605.30 463.27,605.07 467.00,605.20 C470.73,605.33 474.12,605.50 478.00,605.80 C481.88,606.10 486.42,606.65 490.30,607.00 C494.18,607.35 497.57,607.67 501.30,607.90 C505.03,608.13 508.90,608.23 512.70,608.40 C516.50,608.57 520.33,608.70 524.10,608.90 C527.87,609.10 531.50,609.25 535.30,609.60 C539.10,609.95 543.02,610.70 546.90,611.00 C550.78,611.30 554.83,611.23 558.60,611.40 C562.37,611.57 565.77,611.85 569.50,612.00 C573.23,612.15 577.18,612.15 581.00,612.30 C584.82,612.45 588.60,612.72 592.40,612.90 C596.20,613.08 599.95,613.32 603.80,613.40 C607.65,613.48 611.68,613.20 615.50,613.40 C619.32,613.60 622.90,614.25 626.70,614.60 C630.50,614.95 634.50,615.35 638.30,615.50 C642.10,615.65 645.77,615.53 649.50,615.50 C653.23,615.47 656.93,615.22 660.70,615.30 C664.47,615.38 670.20,615.88 672.10,616.00" fill="none" stroke="#00b050" stroke-width="1.4" stroke-linejoin="round"/><circle cx="46.6" cy="557.1" r="2.5" fill="#00b050"/><circle cx="57.2" cy="558.9" r="2.5" fill="#00b050"/><circle cx="68.0" cy="560.3" r="2.5" fill="#00b050"/><circle cx="79.1" cy="562.8" r="2.5" fill="#00b050"/><circle cx="90.4" cy="565.0" r="2.5" fill="#00b050"/><circle cx="102.0" cy="566.9" r="2.5" fill="#00b050"/><circle cx="113.3" cy="568.4" r="2.5" fill="#00b050"/><circle cx="124.4" cy="571.3" r="2.5" fill="#00b050"/><circle cx="135.7" cy="573.4" r="2.5" fill="#00b050"/><circle cx="147.0" cy="574.6" r="2.5" fill="#00b050"/><circle cx="158.4" cy="576.4" r="2.5" fill="#00b050"/><circle cx="170.0" cy="578.1" r="2.5" fill="#00b050"/><circle cx="181.3" cy="579.0" r="2.5" fill="#00b050"/><circle cx="192.2" cy="580.8" r="2.5" fill="#00b050"/><circle cx="204.1" cy="582.0" r="2.5" fill="#00b050"/><circle cx="215.5" cy="583.4" r="2.5" fill="#00b050"/><circle cx="226.7" cy="585.5" r="2.5" fill="#00b050"/><circle cx="238.6" cy="586.4" r="2.5" fill="#00b050"/><circle cx="250.2" cy="587.6" r="2.5" fill="#00b050"/><circle cx="255.8" cy="586.9" r="2.5" fill="#00b050"/><circle cx="261.4" cy="588.7" r="2.5" fill="#00b050"/><circle cx="272.4" cy="590.4" r="2.5" fill="#00b050"/><circle cx="283.8" cy="591.6" r="2.5" fill="#00b050"/><circle cx="295.7" cy="592.5" r="2.5" fill="#00b050"/><circle cx="306.9" cy="593.7" r="2.5" fill="#00b050"/><circle cx="318.5" cy="594.8" r="2.5" fill="#00b050"/><circle cx="330.2" cy="595.5" r="2.5" fill="#00b050"/><circle cx="341.6" cy="596.5" r="2.5" fill="#00b050"/><circle cx="353.0" cy="597.7" r="2.5" fill="#00b050"/><circle cx="364.3" cy="598.7" r="2.5" fill="#00b050"/><circle cx="376.0" cy="599.4" r="2.5" fill="#00b050"/><circle cx="387.0" cy="600.1" r="2.5" fill="#00b050"/><circle cx="398.6" cy="600.8" r="2.5" fill="#00b050"/><circle cx="409.8" cy="601.8" r="2.5" fill="#00b050"/><circle cx="421.6" cy="602.2" r="2.5" fill="#00b050"/><circle cx="432.9" cy="602.9" r="2.5" fill="#00b050"/><circle cx="444.3" cy="603.4" r="2.5" fill="#00b050"/><circle cx="455.6" cy="605.0" r="2.5" fill="#00b050"/><circle cx="467.0" cy="605.2" r="2.5" fill="#00b050"/><circle cx="478.0" cy="605.8" r="2.5" fill="#00b050"/><circle cx="490.3" cy="607.0" r="2.5" fill="#00b050"/><circle cx="501.3" cy="607.9" r="2.5" fill="#00b050"/><circle cx="512.7" cy="608.4" r="2.5" fill="#00b050"/><circle cx="524.1" cy="608.9" r="2.5" fill="#00b050"/><circle cx="535.3" cy="609.6" r="2.5" fill="#00b050"/><circle cx="546.9" cy="611.0" r="2.5" fill="#00b050"/><circle cx="558.6" cy="611.4" r="2.5" fill="#00b050"/><circle cx="569.5" cy="612.0" r="2.5" fill="#00b050"/><circle cx="581.0" cy="612.3" r="2.5" fill="#00b050"/><circle cx="592.4" cy="612.9" r="2.5" fill="#00b050"/><circle cx="603.8" cy="613.4" r="2.5" fill="#00b050"/><circle cx="615.5" cy="613.4" r="2.5" fill="#00b050"/><circle cx="626.7" cy="614.6" r="2.5" fill="#00b050"/><circle cx="638.3" cy="615.5" r="2.5" fill="#00b050"/><circle cx="649.5" cy="615.5" r="2.5" fill="#00b050"/><circle cx="660.7" cy="615.3" r="2.5" fill="#00b050"/><circle cx="672.1" cy="616.0" r="2.5" fill="#00b050"/>
<path d="M47.00,431.10 C49.18,431.05 55.55,430.45 60.10,430.80 C64.65,431.15 69.45,432.02 74.30,433.20 C79.15,434.38 84.28,436.18 89.20,437.90 C94.12,439.62 98.87,441.72 103.80,443.50 C108.73,445.28 113.72,446.67 118.80,448.60 C123.88,450.53 129.08,453.07 134.30,455.10 C139.52,457.13 144.92,458.75 150.10,460.80 C155.28,462.85 160.22,465.37 165.40,467.40 C170.58,469.43 176.07,471.18 181.20,473.00 C186.33,474.82 191.07,476.68 196.20,478.30 C201.33,479.92 206.68,481.10 212.00,482.70 C217.32,484.30 222.78,486.13 228.10,487.90 C233.42,489.67 238.77,491.70 243.90,493.30 C249.03,494.90 253.77,496.02 258.90,497.50 C264.03,498.98 269.43,500.58 274.70,502.20 C279.97,503.82 285.25,505.70 290.50,507.20 C295.75,508.70 300.95,509.98 306.20,511.20 C311.45,512.42 316.68,513.13 322.00,514.50 C327.32,515.87 332.78,517.98 338.10,519.40 C343.42,520.82 348.62,521.65 353.90,523.00 C359.18,524.35 364.52,526.08 369.80,527.50 C375.08,528.92 380.35,530.33 385.60,531.50 C390.85,532.67 396.05,533.35 401.30,534.50 C406.55,535.65 411.83,537.08 417.10,538.40 C422.37,539.72 427.65,541.23 432.90,542.40 C438.15,543.57 443.33,544.65 448.60,545.40 C453.87,546.15 459.15,546.22 464.50,546.90 C469.85,547.58 475.40,548.57 480.70,549.50 C486.00,550.43 491.08,551.70 496.30,552.50 C501.52,553.30 506.72,553.63 512.00,554.30 C517.28,554.97 522.72,555.53 528.00,556.50 C533.28,557.47 538.45,559.15 543.70,560.10 C548.95,561.05 554.23,561.58 559.50,562.20 C564.77,562.82 570.00,563.15 575.30,563.80 C580.60,564.45 586.02,565.42 591.30,566.10 C596.58,566.78 601.75,567.43 607.00,567.90 C612.25,568.37 617.53,568.53 622.80,568.90 C628.07,569.27 633.35,569.60 638.60,570.10 C643.85,570.60 649.05,571.37 654.30,571.90 C659.55,572.43 667.47,573.07 670.10,573.30" fill="none" stroke="#7030a0" stroke-width="1.25" stroke-linejoin="round"/><circle cx="47.0" cy="431.1" r="2.5" fill="#7030a0"/><circle cx="60.1" cy="430.8" r="2.5" fill="#7030a0"/><circle cx="74.3" cy="433.2" r="2.5" fill="#7030a0"/><circle cx="89.2" cy="437.9" r="2.5" fill="#7030a0"/><circle cx="103.8" cy="443.5" r="2.5" fill="#7030a0"/><circle cx="118.8" cy="448.6" r="2.5" fill="#7030a0"/><circle cx="134.3" cy="455.1" r="2.5" fill="#7030a0"/><circle cx="150.1" cy="460.8" r="2.5" fill="#7030a0"/><circle cx="165.4" cy="467.4" r="2.5" fill="#7030a0"/><circle cx="181.2" cy="473.0" r="2.5" fill="#7030a0"/><circle cx="196.2" cy="478.3" r="2.5" fill="#7030a0"/><circle cx="212.0" cy="482.7" r="2.5" fill="#7030a0"/><circle cx="228.1" cy="487.9" r="2.5" fill="#7030a0"/><circle cx="243.9" cy="493.3" r="2.5" fill="#7030a0"/><circle cx="258.9" cy="497.5" r="2.5" fill="#7030a0"/><circle cx="274.7" cy="502.2" r="2.5" fill="#7030a0"/><circle cx="290.5" cy="507.2" r="2.5" fill="#7030a0"/><circle cx="306.2" cy="511.2" r="2.5" fill="#7030a0"/><circle cx="322.0" cy="514.5" r="2.5" fill="#7030a0"/><circle cx="338.1" cy="519.4" r="2.5" fill="#7030a0"/><circle cx="353.9" cy="523.0" r="2.5" fill="#7030a0"/><circle cx="369.8" cy="527.5" r="2.5" fill="#7030a0"/><circle cx="385.6" cy="531.5" r="2.5" fill="#7030a0"/><circle cx="401.3" cy="534.5" r="2.5" fill="#7030a0"/><circle cx="417.1" cy="538.4" r="2.5" fill="#7030a0"/><circle cx="432.9" cy="542.4" r="2.5" fill="#7030a0"/><circle cx="448.6" cy="545.4" r="2.5" fill="#7030a0"/><circle cx="464.5" cy="546.9" r="2.5" fill="#7030a0"/><circle cx="480.7" cy="549.5" r="2.5" fill="#7030a0"/><circle cx="496.3" cy="552.5" r="2.5" fill="#7030a0"/><circle cx="512.0" cy="554.3" r="2.5" fill="#7030a0"/><circle cx="528.0" cy="556.5" r="2.5" fill="#7030a0"/><circle cx="543.7" cy="560.1" r="2.5" fill="#7030a0"/><circle cx="559.5" cy="562.2" r="2.5" fill="#7030a0"/><circle cx="575.3" cy="563.8" r="2.5" fill="#7030a0"/><circle cx="591.3" cy="566.1" r="2.5" fill="#7030a0"/><circle cx="607.0" cy="567.9" r="2.5" fill="#7030a0"/><circle cx="622.8" cy="568.9" r="2.5" fill="#7030a0"/><circle cx="638.6" cy="570.1" r="2.5" fill="#7030a0"/><circle cx="654.3" cy="571.9" r="2.5" fill="#7030a0"/><circle cx="670.1" cy="573.3" r="2.5" fill="#7030a0"/>
<line x1="349.3" y1="387.6" x2="364.6" y2="387.6" stroke="#00b050" stroke-width="1.25"/><circle cx="356.6" cy="387.6" r="2.2" fill="#00b050"/><text x="365.5" y="391.8" font-family="'Liberation Serif', serif" font-weight="bold" font-size="14.2">DF</text>
<line x1="421.8" y1="387.6" x2="437.1" y2="387.6" stroke="#7030a0" stroke-width="1.25"/><circle cx="429.1" cy="387.6" r="2.2" fill="#7030a0"/><text x="438.0" y="391.8" font-family="'Liberation Serif', serif" font-weight="bold" font-size="14.2">BD_WCO</text>
</svg>
</body></html>
